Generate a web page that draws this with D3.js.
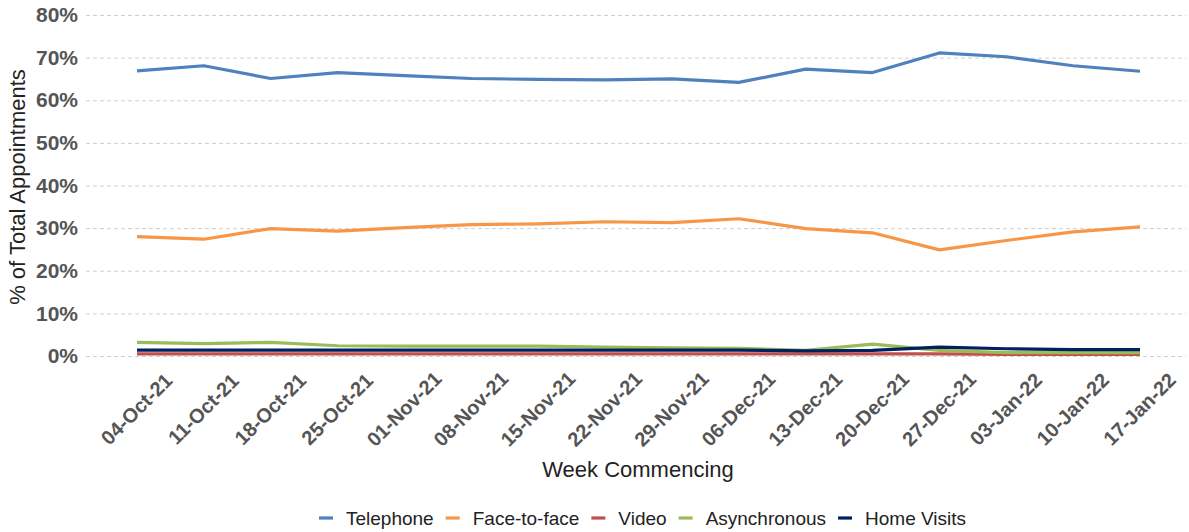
<!DOCTYPE html>
<html>
<head>
<meta charset="utf-8">
<script src="https://cdn.jsdelivr.net/npm/d3@7"></script>
<style>
  body { margin: 0; background: #fff; }
  svg { font-family: "Liberation Sans", Arial, sans-serif; }
</style>
</head>
<body>
<svg id="chart"></svg>
<script>
const weeks = ["04-Oct-21", "11-Oct-21", "18-Oct-21", "25-Oct-21", "01-Nov-21", "08-Nov-21",
  "15-Nov-21", "22-Nov-21", "29-Nov-21", "06-Dec-21", "13-Dec-21", "20-Dec-21",
  "27-Dec-21", "03-Jan-22", "10-Jan-22", "17-Jan-22"];

const telephone = [66.9, 68.1, 65.1, 66.5, 65.8, 65.1, 64.9, 64.8, 65.0, 64.2, 67.3, 66.5, 71.1, 70.2, 68.1, 66.8];
const faceToFace = [28.0, 27.4, 29.9, 29.3, 30.1, 30.8, 31.0, 31.5, 31.3, 32.2, 29.9, 28.9, 24.9, 27.1, 29.1, 30.3];
const video = [0.5, 0.5, 0.5, 0.5, 0.5, 0.5, 0.5, 0.5, 0.5, 0.5, 0.5, 0.5, 0.5, 0.4, 0.4, 0.4];
const asynchronous = [3.2, 2.9, 3.2, 2.4, 2.3, 2.3, 2.3, 2.1, 1.9, 1.8, 1.3, 2.8, 1.3, 0.8, 0.8, 0.8];
const homeVisits = [1.4, 1.4, 1.4, 1.4, 1.4, 1.4, 1.4, 1.4, 1.4, 1.4, 1.2, 1.3, 2.1, 1.7, 1.5, 1.5];

const yTicks = [0, 10, 20, 30, 40, 50, 60, 70, 80];

const series = [
  { name: "Telephone", values: telephone, color: "#4f81bd" },
  { name: "Face-to-face", values: faceToFace, color: "#f79646" },
  { name: "Video", values: video, color: "#c0504d" },
  { name: "Asynchronous", values: asynchronous, color: "#9bbb59" },
  { name: "Home Visits", values: homeVisits, color: "#002060" }
];

const width = 1189, height = 532;
const svg = d3.select("#chart").attr("width", width).attr("height", height);

const x = d3.scalePoint().domain(weeks).range([137, 1140]);
const y = d3.scaleLinear().domain([0, 80]).range([356, 15]);

// grid
svg.append("g")
  .attr("transform", "translate(86,0)")
  .call(d3.axisLeft(y).tickValues(yTicks).tickSize(-1100).tickFormat(""))
  .call(g => g.select(".domain").remove())
  .call(g => g.selectAll("line")
    .attr("stroke", "#cfcfcf")
    .attr("stroke-width", 1)
    .attr("stroke-dasharray", "4,3"));

// y axis labels
svg.append("g")
  .attr("transform", "translate(86,0)")
  .call(d3.axisLeft(y).tickValues(yTicks).tickSize(0).tickPadding(8).tickFormat(d => d + "%"))
  .call(g => g.select(".domain").remove())
  .call(g => g.selectAll("text")
    .attr("fill", "#555")
    .style("font-size", "21px")
    .style("font-weight", "bold"));

// x axis labels
const xAxis = svg.append("g")
  .attr("transform", "translate(0,356)")
  .call(d3.axisBottom(x).tickSize(0).tickFormat(""))
  .call(g => g.select(".domain").remove());

xAxis.selectAll(".tick")
  .append("text")
  .attr("transform", "translate(4,58) rotate(-45)")
  .attr("text-anchor", "middle")
  .attr("fill", "#555")
  .style("font-size", "20px")
  .style("font-weight", "bold")
  .text(d => d);

// titles
svg.append("text")
  .attr("transform", "translate(25,187) rotate(-90)")
  .attr("text-anchor", "middle")
  .attr("fill", "#222")
  .style("font-size", "22px")
  .text("% of Total Appointments");

svg.append("text")
  .attr("x", 638)
  .attr("y", 477)
  .attr("text-anchor", "middle")
  .attr("fill", "#222")
  .style("font-size", "22px")
  .text("Week Commencing");

// lines
const line = d3.line()
  .x((d, i) => x(weeks[i]))
  .y(d => y(d));

svg.append("g")
  .selectAll("path")
  .data(series)
  .join("path")
  .attr("fill", "none")
  .attr("stroke", d => d.color)
  .attr("stroke-width", 3.2)
  .attr("stroke-linejoin", "round")
  .attr("d", d => line(d.values));

// legend
const legend = svg.append("g").attr("transform", "translate(0,518)");
let lx = 319;
series.forEach(s => {
  const item = legend.append("g").attr("transform", `translate(${lx},0)`);
  item.append("line")
    .attr("x1", 0).attr("x2", 14)
    .attr("stroke", s.color)
    .attr("stroke-width", 3.2);
  const t = item.append("text")
    .attr("x", 27)
    .attr("dy", "0.35em")
    .attr("fill", "#222")
    .style("font-size", "19px")
    .text(s.name);
  lx += 27 + t.node().getComputedTextLength() + 12;
});
</script>
</body>
</html>
